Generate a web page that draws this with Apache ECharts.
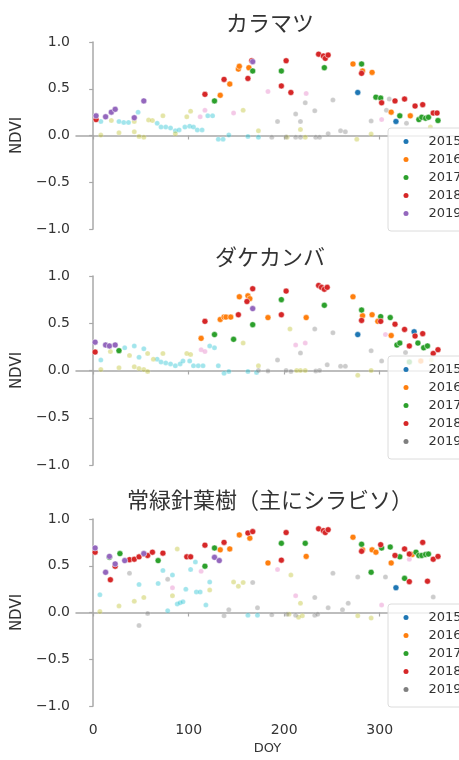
<!DOCTYPE html>
<html><head><meta charset="utf-8">
<script src="https://cdn.jsdelivr.net/npm/echarts@6/dist/echarts.min.js"></script>
<style>html,body{margin:0;padding:0;background:#fff}#c{width:459px;height:760px}</style>
</head><body><div id="c"></div>
<script>
// ---- data: [DOY, NDVI] ----
const titles = ['カラマツ', 'ダケカンバ', '常緑針葉樹（主にシラビソ）'];
const years = ['2015', '2016', '2017', '2018', '2019'];
const xTicks = [0, 100, 200, 300];

// Plot 1: カラマツ
const larch2015 = [[277,0.46],[317,0.15]];
const larch2016 = [[133,0.43],[143,0.55],[152,0.71],[153,0.74],[163,0.725],[272,0.765],[282,0.69],[292,0.675],[312,0.25],[332,0.21]];
const larch2017 = [[127,0.37],[167,0.69],[197,0.69],[242,0.725],[281,0.765],[296,0.41],[301,0.40],[321,0.21],[341,0.17],[344,0.195],[348,0.185],[351,0.195],[361,0.16]];
const larch2018 = [[3,0.17],[117,0.44],[137,0.60],[162,0.61],[166,0.80],[197,0.53],[202,0.80],[207,0.46],[236,0.87],[241,0.85],[243,0.825],[246,0.86],[281,0.665],[302,0.35],[316,0.37],[326,0.39],[337,0.315],[345,0.33],[356,0.24],[360,0.24]];
const larch2019 = [[3,0.21],[13,0.20],[19,0.25],[23,0.28],[43,0.19],[53,0.37],[167,0.79]];
const larchCyan = [[8,0.15],[27,0.15],[32,0.14],[37,0.14],[47,0.25],[67,0.13],[71,0.09],[76,0.09],[81,0.08],[86,0.05],[90,0.06],[96,0.09],[101,0.10],[105,0.09],[109,0.06],[114,0.06],[120,0.21],[125,0.21],[131,-0.04],[136,-0.04],[142,0.005],[162,-0.01],[173,-0.02]];
const larchOlive = [[8,0.005],[19,0.16],[27,0.03],[43,0.04],[43,0.15],[48,-0.01],[53,-0.02],[58,0.165],[62,0.16],[73,0.21],[86,0.02],[98,0.20],[102,0.26],[157,0.27],[173,0.05],[203,-0.02],[217,0.065],[222,-0.02],[276,-0.04],[291,0.015],[353,0.09]];
const larchPink = [[112,0.20],[117,0.27],[147,0.24],[183,0.47],[223,0.45],[302,0.17]];
const larchGray = [[187,-0.02],[193,0.15],[202,-0.015],[212,0.23],[212,-0.02],[217,0.15],[217,-0.02],[222,0.35],[232,0.265],[233,-0.02],[237,-0.02],[246,0.02],[251,0.38],[259,0.05],[264,0.04],[291,0.155],[307,0.27],[310,0.39],[328,0.13]];

// Plot 2: ダケカンバ
const birch2015 = [[277,0.38],[336,0.41]];
const birch2016 = [[113,0.34],[133,0.54],[137,0.565],[139,0.565],[144,0.565],[153,0.78],[162,0.79],[164,0.76],[183,0.56],[223,0.56],[272,0.78],[282,0.58],[292,0.59],[298,0.52],[312,0.37],[343,0.10]];
const birch2017 = [[27,0.21],[127,0.38],[147,0.33],[167,0.485],[197,0.75],[242,0.69],[281,0.64],[301,0.57],[311,0.56],[318,0.27],[321,0.29],[331,0.09],[340,0.29],[346,0.24],[350,0.26]];
const birch2018 = [[2,0.195],[117,0.52],[152,0.59],[161,0.73],[167,0.865],[197,0.59],[202,0.84],[236,0.90],[239,0.88],[242,0.86],[245,0.88],[281,0.53],[301,0.52],[316,0.49],[326,0.435],[331,0.26],[337,0.365],[345,0.39],[356,0.18],[361,0.22]];
const birchPurple = [[2,0.30],[13,0.27],[17,0.26],[23,0.27],[167,0.655]];
const birch2019 = [[173,0.0],[183,-0.005],[193,0.11],[202,0.0],[207,-0.01],[217,0.185],[232,0.44],[233,-0.005],[237,0.0],[245,0.06],[251,0.40],[259,0.045],[264,0.045],[291,0.21],[302,0.10],[327,0.19]];
const birchCyan = [[8,0.11],[33,0.24],[43,0.26],[48,0.14],[53,0.23],[67,0.12],[71,0.09],[76,0.08],[81,0.07],[86,0.05],[91,0.07],[94,0.10],[101,0.10],[105,0.05],[110,0.05],[115,0.05],[122,0.26],[127,0.24],[131,0.05],[137,-0.03],[142,-0.01],[162,-0.01],[171,-0.02]];
const birchOlive = [[8,0.01],[18,0.20],[27,0.03],[38,0.16],[43,0.04],[48,0.02],[53,0.01],[57,-0.01],[57,0.18],[63,0.12],[73,0.18],[98,0.18],[102,0.17],[157,0.29],[173,0.05],[206,0.44],[213,0.0],[217,0.0],[222,0.0],[277,-0.05],[291,0.0],[354,0.11]];
const birchPink = [[113,0.22],[117,0.20],[212,0.27],[222,0.29],[306,0.38]];

// Plot 3: 常緑針葉樹
const fir2015 = [[317,0.265]];
const fir2016 = [[133,0.67],[143,0.68],[153,0.83],[164,0.795],[183,0.53],[223,0.60],[272,0.805],[282,0.67],[292,0.67],[296,0.645],[312,0.53],[334,0.62]];
const fir2017 = [[17,0.59],[28,0.63],[68,0.555],[117,0.495],[127,0.69],[197,0.74],[222,0.74],[281,0.73],[291,0.43],[302,0.69],[311,0.70],[321,0.595],[326,0.365],[338,0.645],[341,0.61],[344,0.61],[348,0.62],[351,0.625]];
const fir2018 = [[2,0.645],[18,0.35],[23,0.495],[38,0.565],[43,0.57],[48,0.595],[53,0.625],[57,0.61],[62,0.645],[73,0.635],[98,0.595],[102,0.595],[117,0.72],[137,0.75],[162,0.85],[167,0.865],[197,0.56],[202,0.855],[236,0.895],[241,0.875],[243,0.855],[246,0.885],[281,0.655],[301,0.725],[316,0.61],[326,0.68],[331,0.625],[331,0.33],[345,0.75],[350,0.335],[356,0.57],[361,0.60]];
const firPurple = [[2,0.69],[13,0.43],[17,0.60],[23,0.52],[33,0.555],[53,0.63],[127,0.59],[132,0.555]];
const fir2019 = [[38,0.42],[48,-0.14],[57,-0.01],[78,0.355],[137,-0.035],[142,0.03],[167,0.32],[172,0.05],[187,-0.025],[203,-0.02],[212,-0.03],[232,0.16],[232,-0.03],[235,-0.02],[246,0.05],[251,0.42],[261,0.03],[267,0.10],[277,0.38],[306,0.38],[356,0.165]];
const firCyan = [[7,0.19],[48,0.30],[68,0.31],[73,0.45],[78,0.02],[83,0.40],[88,0.09],[91,0.105],[94,0.115],[97,0.25],[102,0.46],[107,0.54],[108,0.22],[112,0.22],[118,0.08],[122,0.325],[162,-0.03],[172,-0.03]];
const firOlive = [[7,0.01],[27,0.07],[43,0.12],[53,0.16],[83,0.18],[88,0.68],[122,0.24],[147,0.325],[152,0.28],[157,0.32],[205,-0.02],[207,0.40],[215,-0.05],[217,0.10],[219,-0.035],[277,-0.035],[291,-0.06]];
const firPink = [[83,0.265],[113,0.44],[193,0.46],[212,0.18],[302,0.08],[331,0.57]];

// ---- styling / layout ----
const C = {b:'#1f77b4', o:'#ff7f0e', g:'#2ca02c', r:'#d62728', p:'#9467bd', gr:'#7f7f7f', cy:'#17becf', ol:'#bcbd22', pk:'#e377c2'};
const grids = [
  {left:76, top:42, width:398, height:187},
  {left:76, top:276, width:398, height:189},
  {left:76, top:519, width:398, height:187}
];
const legendTops = [128, 356, 604];
const titleY = [23, 257, 500];

function sc(name, data, color, g, faint){
  return {
    name, type:'scatter', xAxisIndex:g, yAxisIndex:g, data,
    symbolSize: faint ? 5 : 6,
    itemStyle:{color, opacity: faint ? 0.4 : 1, borderColor:'#fff', borderWidth:0.5},
    emphasis:{disabled:true}, z: faint ? 2 : 3
  };
}
const sp = [' ', '  ', '   '];
function yn(y, g){ return y + sp[g]; }

const series = [
  // plot 1
  sc('c0', larchCyan, C.cy, 0, true), sc('o0', larchOlive, C.ol, 0, true), sc('k0', larchPink, C.pk, 0, true), sc('g0', larchGray, C.gr, 0, true),
  sc(yn('2015',0), larch2015, C.b, 0), sc(yn('2016',0), larch2016, C.o, 0), sc(yn('2017',0), larch2017, C.g, 0), sc(yn('2018',0), larch2018, C.r, 0), sc(yn('2019',0), larch2019, C.p, 0),
  // plot 2
  sc('c1', birchCyan, C.cy, 1, true), sc('o1', birchOlive, C.ol, 1, true), sc('k1', birchPink, C.pk, 1, true), sc(yn('2019',1), birch2019, C.gr, 1, true),
  sc(yn('2015',1), birch2015, C.b, 1), sc(yn('2016',1), birch2016, C.o, 1), sc(yn('2017',1), birch2017, C.g, 1), sc(yn('2018',1), birch2018, C.r, 1), sc('v1', birchPurple, C.p, 1),
  // plot 3
  sc('c2', firCyan, C.cy, 2, true), sc('o2', firOlive, C.ol, 2, true), sc('k2', firPink, C.pk, 2, true), sc(yn('2019',2), fir2019, C.gr, 2, true),
  sc(yn('2015',2), fir2015, C.b, 2), sc(yn('2016',2), fir2016, C.o, 2), sc(yn('2017',2), fir2017, C.g, 2), sc(yn('2018',2), fir2018, C.r, 2), sc('v2', firPurple, C.p, 2)
];

const legendColors = [[C.b,C.o,C.g,C.r,C.p],[C.b,C.o,C.g,C.r,C.gr],[C.b,C.o,C.g,C.r,C.gr]];
const legends = [0,1,2].map(g => ({
  orient:'vertical', left:388, top:legendTops[g],
  data: years.map((y,i) => ({name: yn(y,g), icon:'circle', itemStyle:{color:legendColors[g][i], opacity:1, borderWidth:0}})),
  itemWidth:5, itemHeight:5, itemGap:5, padding:[7,4,11,15.5],
  backgroundColor:'rgba(255,255,255,0.8)', borderColor:'#dcdcdc', borderWidth:1, borderRadius:3,
  textStyle:{fontFamily:'DejaVu Sans', fontSize:13, color:'#333',
    rich:{a:{fontFamily:'DejaVu Sans', fontSize:13, color:'#333', padding:[0,0,0,15]}}},
  formatter: n => '{a|' + n.trim() + '}', selectedMode:false
}));

const axisCol = '#a8a8a8';
const xAxes = [0,1,2].map(g => ({
  type:'value', gridIndex:g, min:-18, max:383,
  axisLine:{show:true, lineStyle:{color:axisCol, width:1.5}},
  axisTick:{show:true, customValues:xTicks, length:4, lineStyle:{color:axisCol, width:1.2}},
  axisLabel:{show:g===2, customValues:xTicks, margin:17, fontFamily:'DejaVu Sans', fontSize:14, color:'#333'},
  splitLine:{show:false},
  name: g===2 ? 'DOY' : '', nameLocation:'middle', nameGap:36,
  nameTextStyle:{fontFamily:'DejaVu Sans', fontSize:13, color:'#333'}
}));
const yAxes = [0,1,2].map(g => ({
  type:'value', gridIndex:g, min:-1, max:1, interval:0.5,
  axisLine:{show:true, lineStyle:{color:axisCol, width:1.5}},
  axisTick:{show:true, length:4, lineStyle:{color:axisCol, width:1.2}},
  axisLabel:{margin:6, fontFamily:'DejaVu Sans', fontSize:14, color:'#333', formatter: v => v.toFixed(1).replace('-', '\u2212')},
  splitLine:{show:false},
  name:'NDVI', nameLocation:'middle', nameGap:45,
  nameTextStyle:{fontFamily:'DejaVu Sans', fontSize:15, color:'#333'}
}));

const graphic = titles.map((t,g) => ({
  type:'text', x:270, y:titleY[g],
  style:{text:t, textAlign:'center', textVerticalAlign:'middle', font:'22px "Noto Sans CJK JP"', fill:'#333'}
}));

const chart = echarts.init(document.getElementById('c'), null, {renderer:'canvas'});
chart.setOption({
  backgroundColor:'#fff', animation:false,
  grid:grids, xAxis:xAxes, yAxis:yAxes, legend:legends, series, graphic
});
</script></body></html>
